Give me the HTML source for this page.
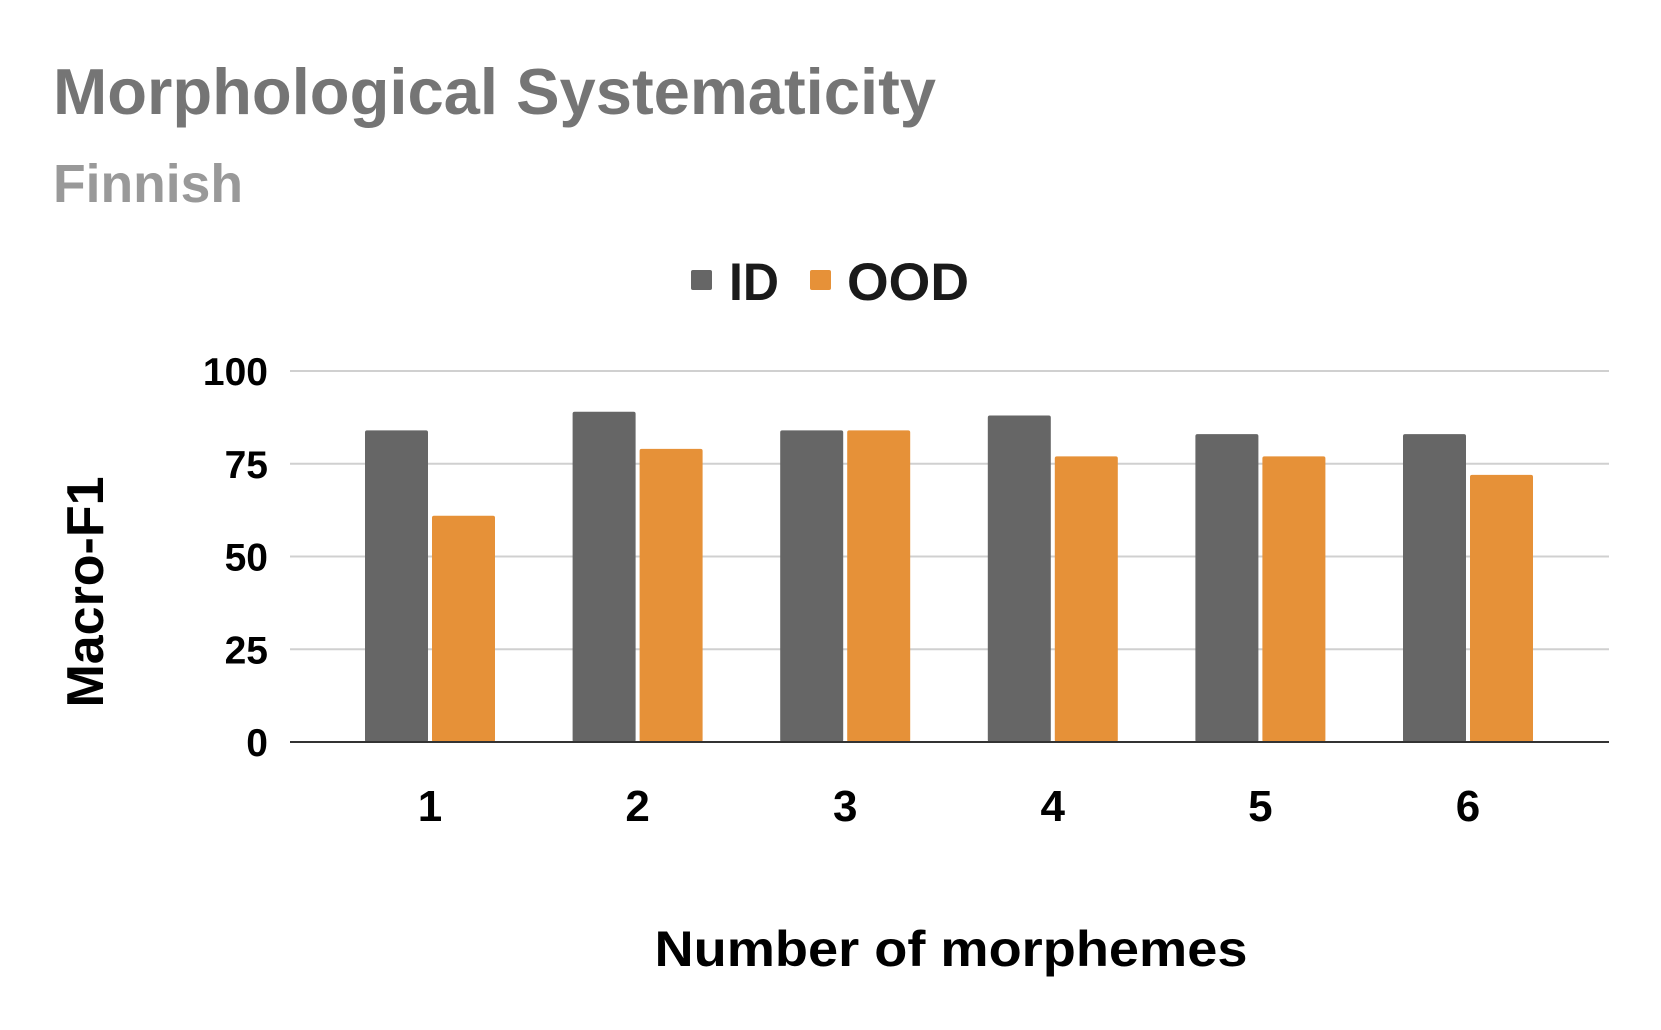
<!DOCTYPE html>
<html><head><meta charset="utf-8"><style>
html,body{margin:0;padding:0;background:#fff;}
svg{display:block;font-family:"Liberation Sans",Arial,sans-serif;font-weight:bold;}
</style></head><body>
<svg id="chart" width="1661" height="1030" viewBox="0 0 1661 1030" xmlns="http://www.w3.org/2000/svg">
<rect width="1661" height="1030" fill="#fff"/>
<text x="53" y="114" font-size="65" fill="#757575" textLength="883" lengthAdjust="spacingAndGlyphs">Morphological Systematicity</text>
<text x="53" y="202" font-size="54" fill="#999999" textLength="190" lengthAdjust="spacingAndGlyphs">Finnish</text>
<g>
<rect x="691" y="270" width="21" height="20" fill="#666666" rx="2"/>
<text x="729" y="300" font-size="53" fill="#1a1a1a" textLength="50" lengthAdjust="spacingAndGlyphs">ID</text>
<rect x="810" y="270" width="21" height="20" fill="#e69138" rx="2"/>
<text x="847" y="300" font-size="53" fill="#1a1a1a" textLength="122" lengthAdjust="spacingAndGlyphs">OOD</text>
</g>
<g id="grid"></g>
<g id="bars"></g>
<g id="xlabels"></g>
<text transform="translate(103,592) rotate(-90)" text-anchor="middle" font-size="52" fill="#000" textLength="231" lengthAdjust="spacingAndGlyphs">Macro-F1</text>
<text x="951" y="966" text-anchor="middle" font-size="50" fill="#000" textLength="593" lengthAdjust="spacingAndGlyphs">Number of morphemes</text>
</svg>
<script>
const categories = ["1","2","3","4","5","6"];
const idValues = [84, 89, 84, 88, 83, 83];
const oodValues = [61, 79, 84, 77, 77, 72];
const yTicks = [0, 25, 50, 75, 100];

const NS = "http://www.w3.org/2000/svg";
const plotL = 290, plotR = 1609, y0 = 742, y100 = 371;
function yScale(v){ return y0 - (v/100)*(y0 - y100); }
function xCenter(i){ return 430 + i*207.6; }
function mk(tag, attrs, parent){
  const e = document.createElementNS(NS, tag);
  for (const k in attrs) e.setAttribute(k, attrs[k]);
  parent.appendChild(e); return e;
}
const grid = document.getElementById('grid');
yTicks.forEach(t => {
  const y = yScale(t);
  const ln = mk('line', {x1:plotL, x2:plotR, y1:y, y2:y, stroke: t===0 ? '#333' : '#d0d0d0', 'stroke-width': 2}, grid);
  
  
  const tx = mk('text', {x:268, y:y+14, 'text-anchor':'end', 'font-size':39, fill:'#000'}, grid);
  tx.textContent = String(t);
  
  
});
const bars = document.getElementById('bars');
const xl = document.getElementById('xlabels');
categories.forEach((c, i) => {
  const cx = xCenter(i);
  const yi = yScale(idValues[i]);
  const b1 = mk('rect', {x:cx-65, y:yi, width:63, height:y0-yi, fill:'#666666', rx:2}, bars);
  
  
  const yo = yScale(oodValues[i]);
  const b2 = mk('rect', {x:cx+2, y:yo, width:63, height:y0-yo, fill:'#e69138', rx:2}, bars);
  
  
  const t = mk('text', {x:cx, y:821, 'text-anchor':'middle', 'font-size':44, fill:'#000'}, xl);
  t.textContent = c;
  
  
});
// redraw baseline on top of bars
const base = mk('line', {x1:plotL, x2:plotR, y1:y0, y2:y0, stroke:'#333', 'stroke-width':2}, bars);


</script>
</body></html>
